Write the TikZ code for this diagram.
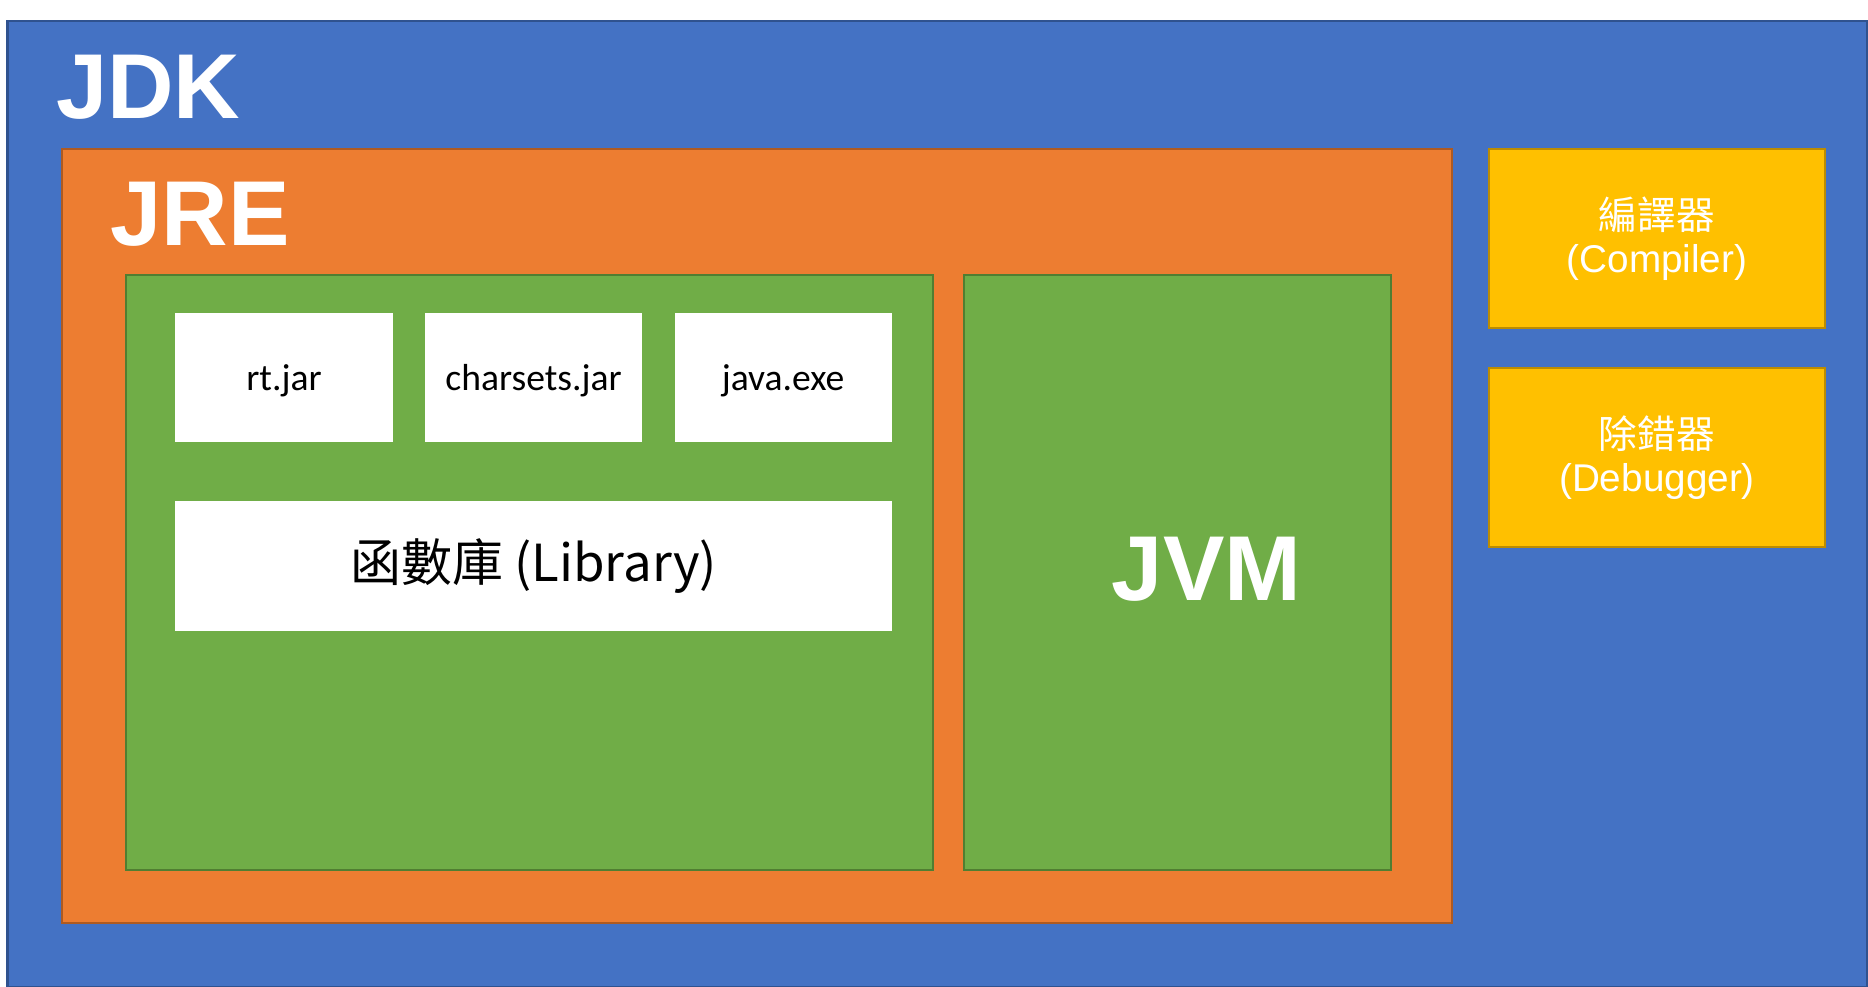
\documentclass[tikz,border=0pt]{standalone}
\usepackage{fontspec}
\setmainfont{Carlito}
\newfontfamily\titlefont{Liberation Sans}
\newfontfamily\cjk{Noto Sans CJK TC}
\usetikzlibrary{positioning}
\definecolor{jdkblue}{HTML}{4472C4}
\definecolor{jdkline}{HTML}{2F528F}
\definecolor{jreorange}{HTML}{ED7D31}
\definecolor{jreline}{HTML}{AE5A21}
\definecolor{jvmgreen}{HTML}{70AD47}
\definecolor{jvmline}{HTML}{507E32}
\definecolor{toolgold}{HTML}{FFC000}
\definecolor{toolline}{HTML}{BC8C00}
\tikzstyle{box}=[draw,rectangle,line width=0.6pt,inner sep=0pt]
\tikzstyle{filebox}=[fill=white,rectangle,inner sep=0pt,minimum width=2.17cm,minimum height=1.29cm,text height=0.33cm,text depth=0.075cm,font=\fontsize{10.7}{12}\selectfont]
\tikzstyle{toolbox}=[box,fill=toolgold,draw=toolline,text=white,align=center,minimum width=3.36cm,minimum height=1.79cm,font=\fontsize{11}{12.4}\selectfont]
\tikzstyle{title}=[text=white,inner sep=0pt,font=\titlefont\bfseries\fontsize{26.2}{30}\selectfont]

\begin{document}
\begin{tikzpicture}[x=0.01cm,y=-0.01cm]
    \useasboundingbox[fill=white] (0,0) rectangle (1868,987);
    % outer boxes
    \node[box,fill=jdkblue,draw=jdkline,minimum width=18.59cm,minimum height=9.66cm] (jdk) at (937.5,504) {};
    \node[box,fill=jreorange,draw=jreline,minimum width=13.90cm,minimum height=7.74cm] (jre) at (757,536) {};
    \node[box,fill=jvmgreen,draw=jvmline,minimum width=8.07cm,minimum height=5.95cm] (lib) at (529.5,572.5) {};
    \node[box,fill=jvmgreen,draw=jvmline,minimum width=4.27cm,minimum height=5.95cm] (jvm) at (1177.5,572.5) {};
    % titles
    \node[title,anchor=base west] (jdktext) at ([xshift=0.49cm,yshift=-0.99cm]jdk.north west) {JDK};
    \node[title,anchor=base west] (jretext) at ([xshift=0.49cm,yshift=-0.98cm]jre.north west) {JRE};
    \node[title] (jvmtext) at ([xshift=0.29cm,yshift=0.03cm]jvm.center) {JVM};
    % files in the JRE
    \node[filebox] (rt) at (284,377.5) {rt.jar};
    \node[filebox,right=0.31cm of rt] (charsets) {charsets.jar};
    \node[filebox,right=0.31cm of charsets] (javaexe) {java.exe};
    \node[filebox,below=0.58cm of charsets,minimum width=7.16cm,text height=,text depth=,font=\cjk\fontsize{14.5}{16}\selectfont] (library) {函數庫 (Library)};
    % tools
    \node[toolbox] (compiler) at (1657,238.5) {{\cjk 編譯器}\\{\titlefont (Compiler)}};
    \node[toolbox,below=0.38cm of compiler] (debugger) {{\cjk 除錯器}\\{\titlefont (Debugger)}};
\end{tikzpicture}
\end{document}
